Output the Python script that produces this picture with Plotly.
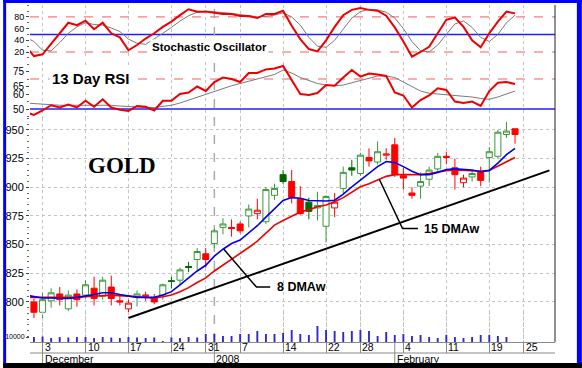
import plotly.graph_objects as go

# ---------------- data ----------------
day_index = list(range(57))          # trading days, 0 = 30 Nov 2007
opens  = [800, 791, 801, 807, 794, 807, 806, 812, 805, 813,
          801, 794, 805, 805, 804, 806, 818.5, 819, 831, 837,
          842, 851, 865, 865, 868, 875, 877, 870, 893, 911,
          905, 890, 887, 882, 866, 882, 899, 917, 912, 926,
          922, 928, 937, 910, 895, 901, 907, 916, 927, 917,
          904, 909, 914, 926, 927, 946, 951]
highs  = [803, 808, 812, 813, 810, 811, 819, 822, 822, 823,
          806, 802, 810, 809, 807, 816, 822, 830, 835, 847,
          847, 864, 873, 872, 870, 885, 890, 900, 903, 915,
          915, 901, 891, 896, 893, 895, 918, 924, 930, 934,
          940, 934, 943, 917, 900, 913, 918, 930, 931, 925,
          911, 915, 918, 935, 950, 957, 951]
lows   = [786, 785, 795, 797, 792, 796, 803, 797, 802, 797,
          797, 791, 796, 801, 798, 802, 812, 815, 826, 828,
          830, 847, 859, 857, 860, 865, 872, 868, 889, 903,
          886, 876, 872, 871, 852, 874, 895, 910, 910, 918,
          920, 924, 909, 898, 890, 890, 901, 914, 920, 898,
          900, 905, 901, 904, 925, 943, 938]
closes = [791, 802, 808, 802, 806, 802, 815, 803, 819, 803,
          800, 799, 807, 806, 800, 815, 818, 828, 830, 844,
          837, 862, 868, 864, 862, 881, 880, 898, 899, 905,
          891, 877, 879, 884, 892, 887, 913, 915, 928, 923,
          931, 929, 911, 908, 893, 905, 915, 927, 926, 911,
          908, 912, 906, 931, 948, 949, 946]
close_before_first = 801

vol_index = list(range(56))
volume = [10000, 11000, 8000, 10000, 9000, 10000, 10000, 8000, 10000, 9000,
          8000, 10000, 9000, 8000, 9000, 2000, 9000, 8000, 10000, 9000,
          16000, 16000, 12000, 12000, 16000, 16000, 22000, 16000, 16000, 18000,
          24000, 16000, 14000, 32000, 24000, 22000, 20000, 22000, 24000, 22000,
          12000, 20000, 14000, 16000, 12000, 14000, 10000, 8000, 14000, 10000,
          8000, 10000, 14000, 14000, 12000, 10000]

ind_index = list(range(-1, 57))
ma8 = [806, 805, 803.5, 803.5, 803, 803, 804, 805, 806.5, 808,
       808, 806.5, 805, 804, 804, 804, 806, 809, 815, 821,
       827, 832, 840, 846, 851, 854, 860, 866.5, 874, 881,
       888.5, 891, 890.5, 888.5, 888, 888, 888.7, 894, 900.4, 906,
       912, 918, 922.5, 921.5, 918, 914, 911, 911, 913, 915.5,
       916, 915.5, 915, 913.5, 914.7, 921, 928.5, 934]
ma15 = [804, 804, 803.5, 803.5, 803.5, 803.5, 804, 804.5, 805, 805.5,
        806, 805.5, 805, 804.5, 804, 803.5, 804.5, 806, 809, 812.5,
        817, 821, 827, 832, 837, 842, 847.5, 853, 860, 867,
        871, 875, 878.5, 880.5, 883, 884.5, 887.3, 891, 896, 900.4,
        903, 906, 909.5, 911, 911, 911, 911, 912, 913.5, 914.5,
        915, 914.7, 914.5, 914, 914.7, 918.4, 922.7, 926]
stoch_k = [30, 13, 16, 34, 52, 70, 66, 73.5, 59, 70,
           52, 45, 23, 32, 43, 52, 63, 72, 83, 93,
           89, 89, 87, 85, 85, 81.5, 81.5, 78, 85, 85,
           90.6, 65, 42, 25, 21, 40, 63, 83, 92, 95,
           92, 90.6, 82, 62, 38, 12, 20, 29, 52, 75,
           79, 63, 40, 28, 52, 72, 89, 86]
stoch_d = [45, 38, 23, 22, 36, 52, 63, 70, 67, 66,
           61, 55, 42, 35, 33, 42, 52, 62, 73, 82,
           88, 90, 89, 87, 86, 84, 82, 80, 81, 83,
           87, 80, 66, 45, 30, 28, 40, 60, 78, 89,
           93, 92, 88, 78, 60, 38, 22, 20, 32, 50,
           68, 73, 62, 45, 38, 50, 70, 83]
rsi = [48, 46, 49, 52.5, 51, 53, 51, 55.5, 51.5, 56.5,
       51, 49.5, 48.7, 52, 51.5, 49, 55.5, 55.5, 60, 61,
       65, 62, 68, 71, 70, 68, 74, 74, 76.4, 77,
       78.7, 69, 60, 59.4, 60.6, 66, 65.5, 71, 76, 71.6,
       73.6, 73, 72, 61, 59, 51, 56, 59, 63.8, 62.7,
       55, 54, 55, 52, 62, 67.5, 68, 66.7]
rsi_signal = [54, 53.5, 53, 52.5, 52.5, 52.5, 52.5, 52.5, 52.5, 53,
              52.5, 52, 51.5, 51, 51, 51, 51.5, 52.5, 54, 56,
              58, 59.5, 62, 64, 65.5, 67, 68.5, 70, 71.5, 73,
              76, 74, 71, 69, 67, 66, 65.5, 66, 67.5, 69,
              70.5, 72, 72, 71, 68, 65, 62, 60.5, 60, 60,
              59.5, 59, 58, 57, 56.5, 58, 60, 62]

trend_x = [11, 60]
trend_y = [786, 914.7]

week_ticks = [1, 6, 11, 16, 20, 24, 29, 34, 38, 43, 48, 53, 57]
week_labels = ["3", "10", "17", "24", "31", "7", "14", "22", "28", "4", "11", "19", "25"]
month_ticks = [1, 21, 42]
month_labels = ["December", "2008", "February"]
year_break = 21

price_ticks = [800, 825, 850, 875, 900, 925, 950]
stoch_ticks = [20, 40, 60, 80]
rsi_ticks_left = [50, 60, 65, 75]
rsi_ticks_right = [50, 60, 70]

# ---------------- helpers ----------------
W, H = 582, 368
L, R, T, B = 27, 27, 5, 26
PW, PH = W - L - R, H - T - B


def px_x(p):
    return (p - L) / PW


def px_y(p):
    return (T + PH - p) / PH


FONT = "Liberation Sans, Arial, sans-serif"
GREEN = "#3a9a3a"
DKGREEN = "#006400"
RED = "#ff0000"
GRID = "#c4c4c4"

fig = go.Figure()

# candles: colour by close vs previous close, fill by close vs open
prev = [close_before_first] + closes[:-1]
up_cls = [i for i in day_index if closes[i] >= prev[i]]
dn_cls = [i for i in day_index if closes[i] < prev[i]]


def sub(arr, ids):
    return [arr[i] for i in ids]


fig.add_trace(go.Candlestick(
    x=up_cls, open=sub(opens, up_cls), high=sub(highs, up_cls),
    low=sub(lows, up_cls), close=sub(closes, up_cls),
    increasing=dict(line=dict(color=GREEN, width=1), fillcolor="white"),
    decreasing=dict(line=dict(color=DKGREEN, width=1), fillcolor=DKGREEN),
    whiskerwidth=0, xaxis="x", yaxis="y", hoverinfo="skip"))
fig.add_trace(go.Candlestick(
    x=dn_cls, open=sub(opens, dn_cls), high=sub(highs, dn_cls),
    low=sub(lows, dn_cls), close=sub(closes, dn_cls),
    increasing=dict(line=dict(color=RED, width=1), fillcolor="white"),
    decreasing=dict(line=dict(color=RED, width=1), fillcolor=RED),
    whiskerwidth=0, xaxis="x", yaxis="y", hoverinfo="skip"))

# moving averages
fig.add_trace(go.Scatter(x=ind_index, y=ma15, mode="lines",
                         line=dict(color="#ee0000", width=1.6), xaxis="x", yaxis="y"))
fig.add_trace(go.Scatter(x=ind_index, y=ma8, mode="lines",
                         line=dict(color="#0000ee", width=1.6), xaxis="x", yaxis="y"))
# trend line
fig.add_trace(go.Scatter(x=trend_x, y=trend_y, mode="lines",
                         line=dict(color="black", width=2), xaxis="x", yaxis="y"))

# volume
fig.add_trace(go.Bar(x=vol_index, y=volume, width=0.22, marker=dict(color="#2a2ad0", line=dict(width=0)),
                     xaxis="x", yaxis="y7"))

# RSI
fig.add_trace(go.Scatter(x=ind_index, y=rsi_signal, mode="lines",
                         line=dict(color="#7a7a7a", width=1), xaxis="x2", yaxis="y3"))
fig.add_trace(go.Scatter(x=ind_index, y=rsi, mode="lines",
                         line=dict(color="#ee0000", width=2), xaxis="x2", yaxis="y3"))
# Stochastic
fig.add_trace(go.Scatter(x=ind_index, y=stoch_d, mode="lines",
                         line=dict(color="#7a7a7a", width=1), xaxis="x3", yaxis="y5"))
fig.add_trace(go.Scatter(x=ind_index, y=stoch_k, mode="lines",
                         line=dict(color="#ee0000", width=2), xaxis="x3", yaxis="y5"))

xrange = [-0.46, 60.65]
xcommon = dict(range=xrange, tickmode="array", tickvals=week_ticks, showticklabels=False,
               showgrid=True, gridcolor=GRID, griddash="dot", gridwidth=1, zeroline=False,
               rangeslider=dict(visible=False), fixedrange=True)

main_dom = [0, px_y(118)]
rsi_dom = [px_y(118), px_y(62)]
sto_dom = [px_y(58), 1]
vol_dom = [0, 30 / PH]

tickfont = dict(family=FONT, size=11, color="black")
rsifont = dict(family=FONT, size=10, color="black")
small = dict(family=FONT, size=9, color="black")


def yax(dom, rng, ticks, font, side="left", overlay=None, anchor="x", grid=False, minor_dt=None):
    d = dict(range=rng, tickmode="array", tickvals=ticks, tickfont=font, side=side,
             ticks="outside", ticklen=3, tickcolor="#444", showgrid=grid, gridcolor=GRID,
             griddash="dot", zeroline=False, showline=False, anchor=anchor, fixedrange=True)
    if overlay:
        d["overlaying"] = overlay
    else:
        d["domain"] = dom
    if minor_dt:
        d["minor"] = dict(tickmode="linear", tick0=0, dtick=minor_dt, ticks="outside",
                          ticklen=2, tickcolor="#666", showgrid=False)
    return d


price_rng = [765.1, 960.4]
rsi_rng = [44, 81.33]
sto_rng = [9.74, 100.34]
vol_rng = [0, 60000]

fig.update_layout(
    width=W, height=H,
    margin=dict(l=L, r=R, t=T, b=B),
    paper_bgcolor="white", plot_bgcolor="rgba(0,0,0,0)",
    showlegend=False,
    font=dict(family=FONT, size=11, color="black"),
    boxgap=0.3, boxgroupgap=0.0,
    xaxis=dict(xcommon, anchor="y", ticks="outside", ticklen=10, tickcolor="#8a8a8a",
               showline=True, linecolor="#8a8a8a", linewidth=1),
    xaxis2=dict(xcommon, anchor="y3", matches="x", ticks=""),
    xaxis3=dict(xcommon, anchor="y5", matches="x", ticks=""),
    yaxis=yax(main_dom, price_rng, price_ticks, tickfont, grid=True, minor_dt=5),
    yaxis2=yax(None, price_rng, price_ticks, tickfont, side="right", overlay="y", minor_dt=5),
    yaxis3=yax(rsi_dom, rsi_rng, rsi_ticks_left, rsifont, anchor="x2", minor_dt=5),
    yaxis4=yax(None, rsi_rng, rsi_ticks_right, rsifont, side="right", overlay="y3", anchor="x2", minor_dt=5),
    yaxis5=yax(sto_dom, sto_rng, stoch_ticks, small, anchor="x3", minor_dt=10),
    yaxis6=yax(None, sto_rng, stoch_ticks, small, side="right", overlay="y5", anchor="x3", minor_dt=10),
    yaxis7=dict(yax(vol_dom, vol_rng, [10000], dict(family=FONT, size=7, color="black")),
                ticktext=["10000"]),
    yaxis8=dict(yax(None, vol_rng, [10000], dict(family=FONT, size=7, color="black"),
                    side="right", overlay="y7"), ticktext=["10000"]),
)

shapes = []
# reference lines in the oscillator panels
for v, col, dash, wd in [(80, "#ff5a5a", "dash", 1), (20, "#ff5a5a", "dash", 1), (50, "#2020ff", "solid", 1.5)]:
    shapes.append(dict(type="line", xref="paper", x0=0, x1=1, yref="y5", y0=v, y1=v,
                       line=dict(color=col, width=wd, dash=dash), layer="below"))
for v, col, dash, wd in [(70, "#ff5a5a", "dash", 1), (50, "#2020ff", "solid", 1.5)]:
    shapes.append(dict(type="line", xref="paper", x0=0, x1=1, yref="y3", y0=v, y1=v,
                       line=dict(color=col, width=wd, dash=dash), layer="below"))
# year break dashed line
shapes.append(dict(type="line", xref="x", x0=year_break, x1=year_break, yref="paper", y0=0, y1=1,
                   line=dict(color="#aaaaaa", width=1.5, dash="dash"), layer="below"))
# right axis line
shapes.append(dict(type="line", xref="paper", x0=1, x1=1, yref="paper", y0=0, y1=1,
                   line=dict(color="#222222", width=1)))
# date row bottom line
shapes.append(dict(type="line", xref="paper", x0=0, x1=1, yref="paper", y0=px_y(353), y1=px_y(353),
                   line=dict(color="#8a8a8a", width=1)))
# month separators
for m in month_ticks:
    shapes.append(dict(type="line", xref="x", x0=m, x1=m, yref="paper", y0=0, y1=px_y(363),
                       line=dict(color="#8a8a8a", width=1)))
# leader lines
shapes.append(dict(type="path", xref="x", yref="y", path="M 22.1 846 L 25.9 813 L 27.5 813",
                   line=dict(color="black", width=1.5)))
shapes.append(dict(type="path", xref="x", yref="y", path="M 40.2 907 L 42.9 864 L 44.7 864",
                   line=dict(color="black", width=1.5)))
# frame
shapes.append(dict(type="rect", xref="paper", yref="paper", x0=px_x(0), x1=px_x(W), y0=px_y(3), y1=px_y(0),
                   fillcolor="#0000ff", line=dict(width=0)))
shapes.append(dict(type="rect", xref="paper", yref="paper", x0=px_x(0), x1=px_x(3), y0=px_y(H), y1=px_y(0),
                   fillcolor="#0000ff", line=dict(width=0)))
shapes.append(dict(type="rect", xref="paper", yref="paper", x0=px_x(577), x1=px_x(W), y0=px_y(H), y1=px_y(0),
                   fillcolor="#0000ff", line=dict(width=0)))
shapes.append(dict(type="rect", xref="paper", yref="paper", x0=px_x(0), x1=px_x(W), y0=px_y(H), y1=px_y(363),
                   fillcolor="#000000", line=dict(width=0)))

annotations = []
for i, t in zip(week_ticks, week_labels):
    annotations.append(dict(x=i, xref="x", y=px_y(347), yref="paper", text=t, showarrow=False,
                            xanchor="left", yanchor="middle", xshift=1, borderpad=0,
                            font=dict(family=FONT, size=10.5)))
for i, t in zip(month_ticks, month_labels):
    annotations.append(dict(x=i, xref="x", y=px_y(358.5), yref="paper", text=t, showarrow=False,
                            xanchor="left", yanchor="middle", xshift=1, borderpad=0,
                            font=dict(family=FONT, size=10.5)))
annotations.append(dict(x=px_x(148), xref="paper", y=px_y(47.5), yref="paper",
                        text="<b>Stochastic Oscillator</b>", showarrow=False, xanchor="left",
                        yanchor="middle", bgcolor="white", borderpad=1,
                        font=dict(family=FONT, size=11.5, color="black")))
annotations.append(dict(x=px_x(46), xref="paper", y=px_y(78), yref="paper",
                        text="<b>13 Day RSI</b>", showarrow=False, xanchor="left",
                        yanchor="middle", bgcolor="white", borderpad=2,
                        font=dict(family=FONT, size=15, color="black")))
annotations.append(dict(x=px_x(83), xref="paper", y=px_y(166), yref="paper",
                        text="<b>GOLD</b>", showarrow=False, xanchor="left", yanchor="middle",
                        font=dict(family="Liberation Serif, Times New Roman, serif", size=23, color="black")))
annotations.append(dict(x=28.0, xref="x", y=813, yref="y", text="<b>8 DMAw</b>", showarrow=False,
                        xanchor="left", yanchor="middle",
                        font=dict(family=FONT, size=12.5, color="black")))
annotations.append(dict(x=45.2, xref="x", y=864, yref="y", text="<b>15 DMAw</b>", showarrow=False,
                        xanchor="left", yanchor="middle",
                        font=dict(family=FONT, size=12.5, color="black")))

fig.update_layout(shapes=shapes, annotations=annotations)

fig.write_html("out.html",
               config={"displayModeBar": False, "staticPlot": True},
               post_script="document.body.style.margin='0';document.body.style.padding='0';"
                           "document.documentElement.style.margin='0';")
